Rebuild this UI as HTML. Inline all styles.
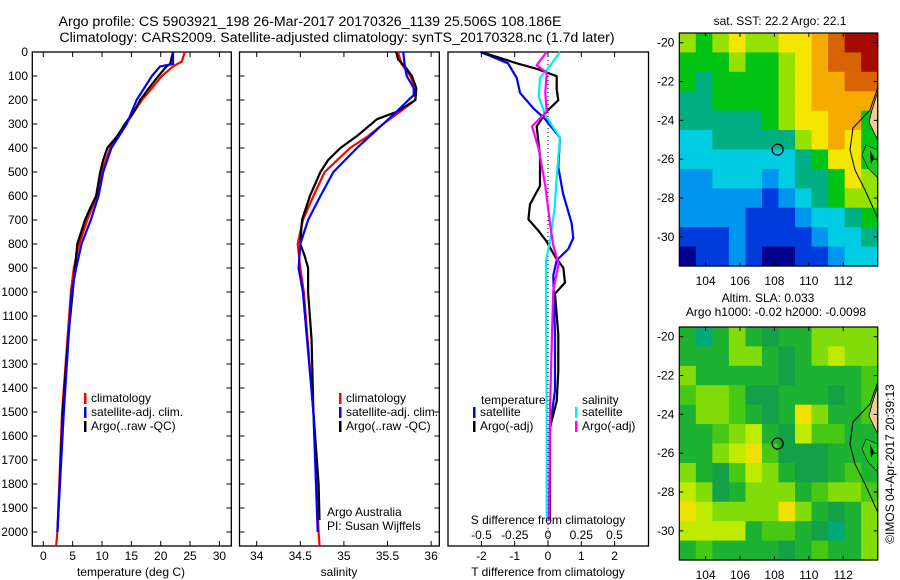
<!DOCTYPE html>
<html><head><meta charset="utf-8">
<style>
html,body{margin:0;padding:0;background:#fff;}
svg{display:block;font-family:"Liberation Sans",sans-serif;}
text{font-size:12px;fill:#000;}
</style></head>
<body>
<svg id="chart" width="900" height="580" viewBox="0 0 900 580" xmlns="http://www.w3.org/2000/svg">
<text x="310" y="26" text-anchor="middle" style="font-size:14.2px">Argo profile: CS 5903921_198 26-Mar-2017 20170326_1139 25.506S 108.186E</text>
<text x="337" y="42" text-anchor="middle" style="font-size:14.2px">Climatology: CARS2009. Satellite-adjusted climatology: synTS_20170328.nc (1.7d later)</text>
<g id="g"></g>
</svg>
<script>
// ---- Temperature panel data (depth m, temp degC)
const tClimDepth = [0,40,60,100,200,300,400,500,600,700,800,900,1000,1500,2000,2055];
const tClimVal   = [24.1,23.6,22.1,20.2,16.8,14.1,11.4,9.9,9.1,7.5,6.1,5.2,4.7,3.2,2.4,2.2];
const tSatDepth  = [0,50,60,100,200,300,400,500,600,700,800,900,1000,1500,2000];
const tSatVal    = [22.1,22.1,19.9,18.5,15.9,14.2,11.6,10.2,9.4,8.1,6.5,5.6,4.8,3.5,2.4];
const tArgoDepth = [0,50,60,100,150,200,250,300,350,400,450,500,600,650,700,800,900,1000,1200,1500,1800,2000];
const tArgoVal   = [22.1,21.6,21.0,19.6,18.0,16.5,15.4,13.9,12.6,10.9,10.2,9.7,9.0,8.0,7.1,5.8,5.4,5.0,4.2,3.3,2.8,2.4];
// ---- Salinity panel data
const sClimDepth = [0,50,100,150,200,250,300,350,400,500,600,700,800,900,1000,1500,2000,2055];
const sClimVal   = [35.62,35.66,35.76,35.82,35.82,35.64,35.45,35.28,35.07,34.78,34.65,34.53,34.47,34.50,34.54,34.65,34.71,34.72];
const sSatDepth  = [0,60,100,150,180,200,250,300,400,500,600,700,800,900,1000,1500,2000];
const sSatVal    = [35.68,35.70,35.72,35.80,35.80,35.74,35.60,35.45,35.15,34.88,34.73,34.59,34.50,34.48,34.53,34.65,34.70];
const sArgoDepth = [0,30,60,100,150,200,250,280,350,400,450,500,600,700,800,850,900,1000,1200,1500,1800,1950];
const sArgoVal   = [35.60,35.62,35.70,35.78,35.83,35.82,35.60,35.38,35.15,34.96,34.82,34.73,34.61,34.52,34.50,34.55,34.59,34.59,34.63,34.65,34.71,34.72];
// ---- Difference panel data
const dTSatDepth = [0,16,47,108,170,233,279,357,480,589,713,775,821,868,930,1177,1410,1564,1952];
const dTSatVal   = [-2.04,-1.74,-1.2,-0.94,-0.84,-0.45,-0.09,0.36,0.31,0.45,0.71,0.76,0.61,0.26,0.16,0.21,0.21,0.06,0.03];
const dTArgoDepth= [0,47,70,101,155,201,248,310,434,558,635,697,744,790,852,899,961,1007,1177,1332,1456,1564,1952];
const dTArgoVal  = [-2.0,-0.94,-0.34,0.26,0.26,0.31,-0.04,-0.34,-0.24,-0.24,-0.54,-0.59,-0.29,-0.04,0.21,0.46,0.51,0.21,0.31,0.31,0.26,0.06,0.06];
const dSSatDepth = [0,47,108,186,263,357,527,651,790,868,1023,1487,1952];
const dSSatVal   = [0.09,0.03,-0.06,-0.07,-0.02,0.09,0.065,0.05,0.015,-0.015,-0.015,-0.01,-0.01];
const dSArgoDepth= [0,55,86,170,248,310,403,558,713,806,883,992,1177,1487,1952];
const dSArgoVal  = [-0.01,-0.085,-0.01,-0.02,-0.01,-0.12,-0.07,-0.02,0.015,0.04,0.08,0.04,0.03,0.015,0.01];
// ---- Axis ticks
const depthTicks = [0,100,200,300,400,500,600,700,800,900,1000,1100,1200,1300,1400,1500,1600,1700,1800,1900,2000];
const tempTicks = [0,5,10,15,20,25,30];
const salTicks = [34,34.5,35,35.5,36];
const salTickLabels = ["34","34.5","35","35.5","36"];
const dTTicks = [-2,-1,0,1,2];
const dSTicks = [-0.5,-0.25,0,0.25,0.5];
const lonTicks = [104,106,108,110,112];
const latTicks = [-20,-22,-24,-26,-28,-30];
// ---- Map grids (colour index, rows lat -20..-31, cols lon 102.5..114)
const sstGrid = [
[6,5,6,7,6,6,7,7,8,9,10,10],
[5,5,5,6,5,5,6,7,8,9,9,10],
[5,4,5,5,5,5,6,7,8,8,9,9],
[4,4,5,5,5,5,6,7,8,8,8,8],
[4,4,4,4,4,5,6,7,7,8,8,5],
[3,3,4,4,4,4,4,6,7,8,7,5],
[3,3,3,3,3,3,3,4,5,7,7,5],
[2,2,3,3,3,2,3,4,4,5,7,6],
[2,2,2,2,2,1,2,3,4,5,6,6],
[2,2,2,2,1,1,1,2,3,3,4,5],
[1,1,1,2,1,1,1,1,2,3,3,4],
[0,1,1,2,1,0,0,1,1,2,3,3]];
const slaGrid = [
[5,4,5,6,5,4.5,5,5,6,6,6,6],
[5,5,5,6,6,5,4.5,5,6,6.5,6,6],
[6,5,5,5,5,5,4.5,5,5,5,5,5.5],
[5.5,6,6,5.5,4.5,4.5,5,5,5,4.5,5,5.5],
[5,6,6,5.5,5,4.5,5,7,6,5,5,5.5],
[5,5,5.5,6,6.5,5,4.5,6.5,5.5,5.5,5,5],
[5,5,6,6.5,7,5.5,4.5,4.5,4.5,5,5,5],
[6,5,4.5,5.5,6.5,6,5,4.5,4.5,5,5.5,5],
[6.5,6,4.5,5,6,6,6,5,5.5,6,6,5.5],
[7,6.5,6,6,6,6,7,6,5,4.5,5,6],
[6.5,6.5,6.5,6.5,5,5.5,5.5,5,4.5,4,5,6],
[5,5.5,5,5,5,5,4.5,5,5.5,5,5,6]];
const argoLon = 108.186, argoLat = -25.506;

const NS="http://www.w3.org/2000/svg";
const G=document.getElementById('g');
function el(tag,attrs,parent){const e=document.createElementNS(NS,tag);for(const k in attrs)e.setAttribute(k,attrs[k]);(parent||G).appendChild(e);return e;}
function txt(x,y,s,anchor,parent){const t=el('text',{x:x,y:y,'text-anchor':anchor||'start'},parent);t.textContent=s;return t;}

const Y0=52, YS=0.24, YB=546;
const yD=d=>Y0+d*YS;
const xT=v=>43.3+5.87*v;
const xS=v=>256.7+87.2*(v-34);
const xDT=v=>548+33.3*v;
const xDS=v=>548+133*v;

function panel(x0,x1,name){
  const g=el('g',{});
  
  
  el('rect',{x:x0,y:Y0,width:x1-x0,height:YB-Y0,fill:'#fff',stroke:'#000','stroke-width':1.3},g);
  return g;
}
function depthTickMarks(g,x0,x1){
  depthTicks.forEach(d=>{const y=yD(d);
    el('line',{x1:x0,y1:y,x2:x0+5,y2:y,stroke:'#000'},g);
    el('line',{x1:x1,y1:y,x2:x1-5,y2:y,stroke:'#000'},g);});
}
function xTicks(g,vals,fx,labels,ly){
  vals.forEach((v,i)=>{const x=fx(v);
    el('line',{x1:x,y1:YB,x2:x,y2:YB-5,stroke:'#000'},g);
    el('line',{x1:x,y1:Y0,x2:x,y2:Y0+5,stroke:'#000'},g);
    if(labels){const t=txt(x,ly,labels[i],'middle',g);}});
}
function line(g,depths,vals,fx,color,name){
  const pts=depths.map((d,i)=>fx(vals[i]).toFixed(1)+','+yD(d).toFixed(1)).join(' ');
  const p=el('polyline',{points:pts,fill:'none',stroke:color,'stroke-width':2.2,'stroke-linejoin':'round'},g);
  
  
}
function legend(g,x,y,items){
  items.forEach((it,i)=>{
    const r=el('rect',{x:x,y:y+i*14-9,width:2.5,height:11,fill:it[1]},g);
    
    
    const t=txt(x+7,y+i*14,it[0],'start',g);
    
    
  });
}

// Panel 1
const p1=panel(32.3,231.3,'temperature-panel');
depthTickMarks(p1,32.3,231.3);
depthTicks.forEach(d=>{const t=txt(28,yD(d)+4,String(d),'end',p1);});
xTicks(p1,tempTicks,xT,tempTicks.map(String),560);
line(p1,tClimDepth,tClimVal,xT,'#f00','temp-climatology-line');
line(p1,tArgoDepth,tArgoVal,xT,'#000','temp-argo-line');
line(p1,tSatDepth,tSatVal,xT,'#00f','temp-satellite-line');
legend(p1,84,402,[['climatology','#f00'],['satellite-adj. clim.','#00f'],['Argo(..raw -QC)','#000']]);
{const t=txt(131,576,'temperature (deg C)','middle',p1);}

// Panel 2
const p2=panel(239.5,439.3,'salinity-panel');
depthTickMarks(p2,239.5,439.3);
xTicks(p2,salTicks,xS,salTickLabels,560);
line(p2,sClimDepth,sClimVal,xS,'#f00','sal-climatology-line');
line(p2,sArgoDepth,sArgoVal,xS,'#000','sal-argo-line');
line(p2,sSatDepth,sSatVal,xS,'#00f','sal-satellite-line');
legend(p2,339,402,[['climatology','#f00'],['satellite-adj. clim.','#00f'],['Argo(..raw -QC)','#000']]);
{const t=txt(327,516,'Argo Australia','start',p2);}
{const t=txt(327,530,'PI: Susan Wijffels','start',p2);}
{const t=txt(339,576,'salinity','middle',p2);}

// Panel 3
const p3=panel(448,648.5,'difference-panel');
el('line',{x1:548,y1:Y0,x2:548,y2:YB,stroke:'#000','stroke-dasharray':'1,3'},p3);
xTicks(p3,dTTicks,xDT,dTTicks.map(String),560);
line(p3,dTSatDepth,dTSatVal,xDT,'#00f','dT-satellite-line');
line(p3,dTArgoDepth,dTArgoVal,xDT,'#000','dT-argo-line');
line(p3,dSSatDepth,dSSatVal,xDS,'#0ee','dS-satellite-line');
line(p3,dSArgoDepth,dSArgoVal,xDS,'#f0f','dS-argo-line');
txt(481,404,'temperature','start',p3);
legend(p3,473,416,[['satellite','#00f'],['Argo(-adj)','#000']]);
txt(582,404,'salinity','start',p3);
legend(p3,575,416,[['satellite','#0ee'],['Argo(-adj)','#f0f']]);
{const t=txt(548,524,'S difference from climatology','middle',p3);}
dSTicks.forEach(v=>{const t=txt(xDS(v),539,String(v),'middle',p3);});
{const t=txt(548,576,'T difference from climatology','middle',p3);}

// Maps
const sstStops=[[0,[0,0,140]],[1,[0,60,220]],[2,[0,150,240]],[3,[0,205,225]],[4,[0,175,130]],[5,[0,195,20]],[6,[150,225,0]],[7,[245,230,0]],[8,[245,170,0]],[9,[215,100,0]],[10,[165,10,0]]];
const slaStops=[[4,[0,170,120]],[4.5,[20,160,70]],[5,[30,178,50]],[5.5,[70,200,20]],[6,[130,220,10]],[6.5,[190,235,0]],[7,[240,225,0]]];
function cmap(v,stops){
  if(v<=stops[0][0])return 'rgb('+stops[0][1].join(',')+')';
  for(let i=0;i<stops.length-1;i++){const a=stops[i],b=stops[i+1];
    if(v<=b[0]){const f=(v-a[0])/(b[0]-a[0]);return 'rgb('+a[1].map((c,k)=>Math.round(c+(b[1][k]-c)*f)).join(',')+')';}}
  return 'rgb('+stops[stops.length-1][1].join(',')+')';
}
const MX0=679.3,MX1=877.7,LON0=102.47,LONS=17.2;
function drawMap(top,bottom,grid,stops,name){
  const g=el('g',{});
  
  
  const latS=(bottom-top)/12;
  const rows=grid.length,cols=grid[0].length;
  const cw=(MX1-MX0)/cols,ch=(bottom-top)/rows;
  grid.forEach((row,r)=>row.forEach((v,c)=>{
    const cell=el('rect',{x:(MX0+c*cw).toFixed(2),y:(top+r*ch).toFixed(2),width:(cw+0.6).toFixed(2),height:(ch+0.6).toFixed(2),fill:cmap(v,stops)},g);
    
    
  }));
  const yL=lat=>top+(-19.5-lat)*latS;
  const xL=lon=>MX0+(lon-LON0)*LONS;
  const o=top-33;
  el('path',{d:`M877.7,${92+o} L872,${110+o} L869,${122+o} L877.7,${140+o} Z`,fill:'#f8c89c',stroke:'#000','stroke-width':0.8},g);
  el('path',{d:`M877.7,${150+o} L866,${145+o} L862,${155+o} L868,${168+o} L877.7,${178+o} Z`,fill:'#1ec81e',stroke:'#000','stroke-width':0.6},g);
  el('path',{d:`M870,${150+o} L874,${158+o} L871,${164+o} Z`,fill:'#000'},g);
  el('polyline',{points:`877.7,${88+o} 870,${110+o} 853,${128+o} 850,${150+o} 855,${170+o} 865,${190+o} 877.7,${218+o}`,fill:'none',stroke:'#000','stroke-width':1},g);
  el('rect',{x:MX0,y:top,width:MX1-MX0,height:bottom-top,fill:'none',stroke:'#000','stroke-width':1.2},g);
  latTicks.forEach(l=>{const y=yL(l);el('line',{x1:MX0,y1:y,x2:MX0+4,y2:y,stroke:'#000'},g);el('line',{x1:MX1,y1:y,x2:MX1-4,y2:y,stroke:'#000'},g);
    const t=txt(MX0-5,y+4,String(l),'end',g);});
  lonTicks.forEach(l=>{const x=xL(l);el('line',{x1:x,y1:bottom,x2:x,y2:bottom-4,stroke:'#000'},g);el('line',{x1:x,y1:top,x2:x,y2:top+4,stroke:'#000'},g);
    const t=txt(x,bottom+19,String(l),'middle',g);});
  const c=el('circle',{cx:xL(argoLon),cy:yL(argoLat),r:5.5,fill:'none',stroke:'#000','stroke-width':1.2},g);
  
  
}
drawMap(33,266,sstGrid,sstStops,'sst-map');
drawMap(327,560,slaGrid,slaStops,'sla-map');
{const t=txt(780,25,'sat. SST: 22.2  Argo: 22.1','middle');}
{const t=txt(768,302,'Altim. SLA: 0.033','middle');}
{const t=txt(776,316,'Argo h1000: -0.02 h2000: -0.0098','middle');}
{const t=el('text',{x:0,y:0,'text-anchor':'middle',transform:'translate(894,464) rotate(-90)'});t.textContent='©IMOS 04-Apr-2017 20:39:13';}
</script>
</body></html>
